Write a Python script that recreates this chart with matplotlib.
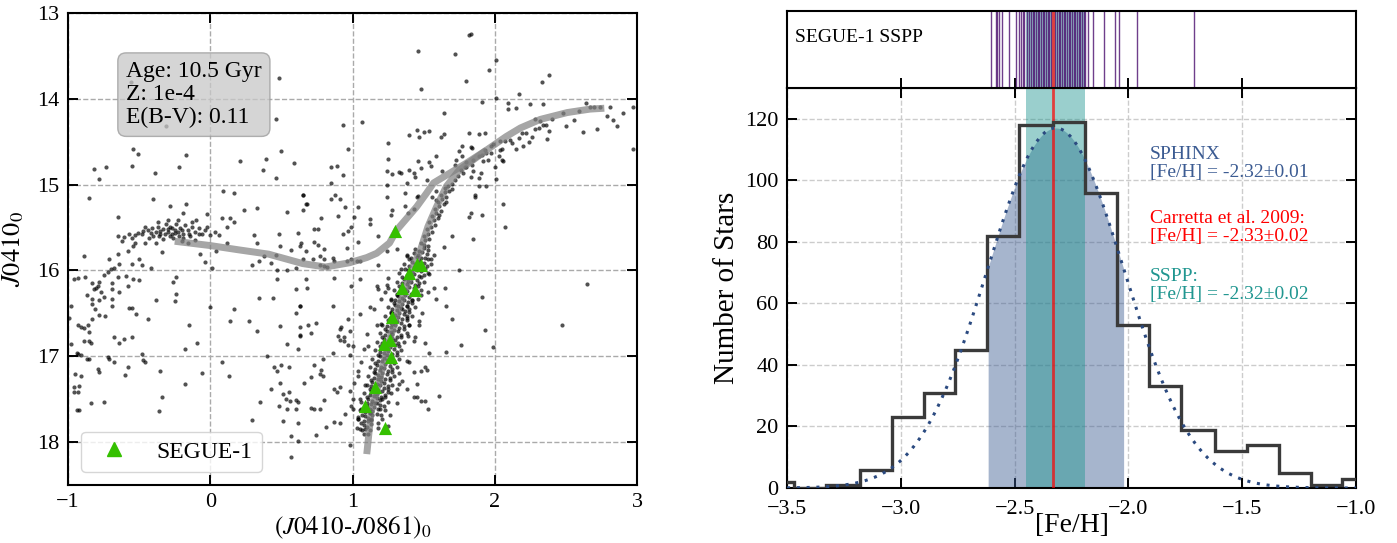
import numpy as np
import matplotlib
matplotlib.use("Agg")
import matplotlib.pyplot as plt
from matplotlib.lines import Line2D

plt.rcParams["font.family"] = ["Liberation Serif", "DejaVu Serif"]
plt.rcParams["mathtext.fontset"] = "stix"
plt.rcParams["axes.unicode_minus"] = True

# ---------------- left panel: CMD ----------------
field_stars = [
    (0.48, 13.76), (0.46, 14.24), (-0.56, 13.80), (-0.31, 14.32), (-0.54, 14.58), (-0.51, 14.64),
    (-0.17, 14.65), (0.50, 14.61), (0.21, 14.72), (0.39, 14.70), (-0.82, 14.82), (-0.73, 14.79),
    (-0.55, 14.78), (-0.22, 14.79), (0.37, 14.83), (0.59, 14.75), (-0.78, 14.93), (-0.39, 14.87),
    (0.46, 14.92), (-0.85, 15.16), (-0.40, 15.17), (0.09, 15.08), (0.17, 15.10), (-0.17, 15.22),
    (-0.28, 15.25), (0.65, 15.12), (0.68, 15.22), (0.24, 15.30), (0.33, 15.27), (0.54, 15.32),
    (-0.65, 15.38), (-0.19, 15.33), (-0.02, 15.34), (0.08, 15.39), (0.14, 15.39), (0.17, 15.44),
    (0.12, 15.49), (0.31, 15.59), (0.48, 15.58), (0.62, 15.56), (0.64, 15.68), (0.57, 15.76),
    (0.49, 15.72), (0.33, 15.68), (0.12, 15.68), (0.06, 15.59),
    (-0.89, 15.83), (-0.65, 15.81), (-0.34, 15.79), (-0.07, 15.81), (-0.04, 15.90), (0.01, 15.97),
    (0.04, 15.77), (-0.71, 15.87), (-0.64, 15.92), (-0.55, 15.93), (-0.50, 15.87), (-0.48, 15.94),
    (-0.42, 15.97), (-0.96, 16.10), (-0.93, 16.09), (-0.88, 16.08), (-0.72, 16.02), (-0.70, 15.98),
    (-0.68, 15.97), (-0.75, 16.05), (-0.79, 16.18), (-0.80, 16.21), (-0.82, 16.22), (-0.83, 16.15),
    (-0.78, 16.13), (-0.77, 16.25), (-0.75, 16.31), (-0.78, 16.35), (-0.83, 16.33), (-0.87, 16.29),
    (-0.81, 16.45), (-0.83, 16.39), (-0.65, 16.08), (-0.64, 16.25), (-0.69, 16.22), (-0.69, 16.33),
    (-0.69, 16.41), (-0.69, 16.15), (-0.59, 16.07), (-0.58, 16.18), (-0.54, 16.10), (-0.50, 16.11),
    (-0.57, 16.44), (-0.55, 16.44), (-0.52, 16.51), (-0.44, 16.57), (-0.38, 16.34), (-0.25, 16.36),
    (-0.24, 16.28), (-0.26, 16.13), (-0.24, 16.08), (-0.15, 16.64), (-0.09, 16.85), (-0.18, 16.92),
    (0.00, 16.43), (-0.74, 16.53), (-0.78, 16.52), (-0.83, 16.57), (-0.86, 16.64), (-0.93, 16.63),
    (-0.91, 16.66), (-0.89, 16.67), (-0.85, 16.72), (-0.89, 16.82), (-0.85, 16.82), (-0.84, 16.85),
    (-0.98, 16.86), (-0.99, 16.55), (-0.98, 16.41), (-0.94, 16.96), (-0.93, 16.97), (-0.91, 16.99),
    (-0.87, 17.03), (-0.85, 17.03), (-0.72, 17.01), (-0.71, 17.03), (-0.68, 17.07), (-0.79, 17.15),
    (-0.78, 17.18), (-0.58, 17.13), (-0.60, 17.22), (-0.48, 16.97), (-0.47, 17.04), (-0.46, 17.07),
    (-0.35, 17.17), (-0.18, 17.32), (-0.06, 17.20), (-0.95, 17.21), (-0.91, 17.23), (-0.96, 17.36),
    (-0.92, 17.35), (-0.96, 17.42), (-0.93, 17.42), (-0.84, 17.54), (-0.75, 17.53), (-0.94, 17.63),
    (-0.92, 17.63), (-0.34, 17.47), (-0.36, 17.64), (-0.61, 16.80), (-0.64, 16.85), (-0.55, 16.77),
    (-0.68, 16.78), (0.08, 17.07), (0.13, 17.23), (0.14, 16.59), (0.17, 16.45), (0.27, 16.59),
    (0.34, 16.32), (0.44, 16.32), (0.33, 16.71), (0.49, 16.65), (0.54, 16.86), (0.63, 16.66),
    (0.63, 16.75), (0.62, 16.92), (0.60, 16.50), (0.63, 16.41), (0.40, 17.00), (0.45, 17.12),
    (0.47, 17.17), (0.50, 17.10), (0.55, 17.13), (0.49, 17.31), (0.43, 17.38), (0.51, 17.44),
    (0.55, 17.42), (0.56, 17.52), (0.53, 17.50), (0.60, 17.51), (0.62, 17.53), (0.48, 17.58),
    (0.54, 17.61), (0.60, 17.62), (0.35, 17.53), (0.29, 17.74), (0.51, 17.76), (0.62, 17.78),
    (0.57, 17.93), (0.62, 17.99), (0.57, 18.17), (0.47, 16.10), (0.54, 16.00), (0.47, 15.99),
    (0.43, 15.91), (0.29, 15.94), (0.34, 15.89), (0.38, 15.83), (0.46, 15.82), (0.60, 15.97),
    (0.65, 15.87), (0.60, 16.22),
    (1.46, 13.44), (1.72, 13.48), (1.82, 13.26), (1.83, 13.25), (2.01, 13.55), (1.96, 13.67),
    (1.80, 13.79), (1.48, 13.89), (2.33, 13.81), (2.38, 13.72), (2.17, 13.94), (1.91, 14.04),
    (2.01, 13.99), (2.09, 14.05), (2.09, 14.12), (2.15, 14.11), (2.25, 14.06), (2.34, 14.06),
    (0.93, 14.31), (1.07, 14.27), (0.97, 14.58), (1.64, 14.17), (1.45, 14.36), (1.50, 14.39),
    (1.54, 14.37), (1.40, 14.42), (1.47, 14.44), (1.62, 14.44), (1.64, 14.41), (1.25, 14.52),
    (1.25, 14.70), (1.46, 14.72), (1.59, 14.67), (1.54, 14.74), (1.55, 14.78), (1.48, 14.81),
    (1.40, 14.83), (1.34, 14.86), (1.28, 14.88), (1.24, 14.84), (1.43, 14.86), (1.44, 14.91),
    (1.52, 14.95), (1.63, 14.84), (1.24, 15.00), (1.24, 15.15), (1.28, 15.29), (1.27, 15.35),
    (1.18, 15.60), (1.12, 15.46), (1.12, 15.40), (1.04, 15.26), (1.01, 15.38), (0.99, 15.49),
    (0.90, 15.37), (0.95, 15.26), (0.88, 15.12), (0.85, 15.17), (0.91, 15.17), (0.85, 14.98),
    (0.85, 14.80), (0.89, 14.78), (0.93, 14.89), (0.65, 15.12), (0.67, 15.22), (0.65, 15.29),
    (0.78, 15.39), (0.73, 15.52), (0.76, 15.52), (0.93, 15.57), (0.97, 15.54), (0.73, 15.67),
    (0.76, 15.70), (0.63, 15.72), (0.80, 15.75), (0.96, 15.74), (1.04, 15.67), (1.33, 14.85),
    (1.37, 15.10), (1.38, 14.98), (1.45, 15.14), (1.46, 15.13), (1.37, 15.25), (1.39, 15.33),
    (1.43, 15.28), (1.56, 15.15), (1.59, 15.18), (1.59, 15.07), (1.65, 15.04), (1.70, 15.60),
    (1.85, 15.63), (1.82, 15.38), (1.91, 15.35), (1.86, 15.15), (1.83, 15.33), (1.89, 15.02),
    (1.94, 15.02), (2.01, 14.93), (2.06, 15.23), (2.07, 15.49), (2.05, 14.71), (2.06, 14.72),
    (2.03, 14.67), (2.04, 14.60), (2.04, 14.49), (2.07, 14.49), (2.11, 14.48), (2.12, 14.52),
    (2.15, 14.59), (2.17, 14.46), (2.19, 14.40), (2.20, 14.55), (2.24, 14.50), (2.26, 14.45),
    (2.22, 14.40), (2.28, 14.35), (2.31, 14.34), (2.34, 14.31), (2.37, 14.47), (2.38, 14.38),
    (2.36, 14.30), (2.40, 14.23), (2.48, 14.16), (2.50, 14.32), (2.56, 14.25), (2.59, 14.14),
    (2.62, 14.39), (2.64, 14.05), (2.67, 14.10), (2.70, 14.09), (2.72, 14.35), (2.74, 14.09),
    (2.79, 14.20), (2.81, 14.10), (2.83, 14.25), (2.86, 14.32), (2.90, 14.17), (2.97, 14.09),
    (2.97, 14.58), (2.28, 14.24), (2.32, 14.26), (1.99, 14.53), (1.97, 14.55), (1.93, 14.60),
    (1.94, 14.63), (1.97, 14.63), (1.91, 14.65), (1.92, 14.73), (1.89, 14.67), (1.85, 14.71),
    (1.84, 14.77), (1.85, 14.84), (1.83, 14.56), (1.84, 14.57), (1.77, 14.55), (1.75, 14.61),
    (1.77, 14.67), (1.73, 14.71), (1.72, 14.77), (1.79, 14.79), (1.80, 14.74), (1.90, 14.86),
    (1.89, 14.92), (1.83, 14.91), (1.86, 15.12), (1.93, 14.40), (1.82, 14.40), (1.89, 14.41),
    (1.95, 14.71), (2.00, 14.80), (2.05, 14.58),
    (1.75, 15.99), (2.65, 16.16), (2.47, 16.64), (1.91, 16.31), (1.65, 16.20), (1.66, 16.42),
    (1.70, 16.56), (1.93, 16.69), (1.76, 16.87), (1.99, 16.89), (1.66, 16.95), (1.54, 16.96),
    (1.61, 17.46), (1.53, 17.62), (1.51, 17.52), (1.48, 17.52), (1.45, 17.48), (1.43, 17.48),
    (1.52, 17.16), (1.48, 17.17), (1.51, 17.12), (1.43, 17.18), (1.45, 17.32), (1.38, 17.38),
    (1.35, 17.29), (1.33, 17.32), (1.31, 17.54), (1.26, 17.69), (1.25, 17.81), (1.05, 17.85),
    (1.07, 17.86), (0.98, 18.03), (1.04, 17.71), (1.00, 17.62), (1.04, 17.73), (0.95, 17.67),
    (0.91, 17.78), (0.87, 17.77), (0.81, 17.82), (0.74, 17.92), (0.71, 17.60), (0.73, 17.61),
    (0.77, 17.61), (0.80, 17.51), (0.89, 17.42), (0.91, 17.36), (0.87, 17.38), (0.98, 17.40),
    (1.00, 17.50), (0.99, 17.58), (0.79, 17.23), (0.77, 17.21), (0.71, 17.24), (0.66, 17.31),
    (0.79, 17.03), (0.78, 17.16), (0.73, 17.10), (0.86, 16.96), (0.98, 16.99), (1.00, 16.88),
    (0.97, 16.87), (0.94, 16.82), (0.90, 16.76), (0.92, 16.66), (0.91, 16.68), (0.97, 16.56),
    (0.98, 16.70), (1.05, 16.51), (1.12, 16.43), (1.15, 16.45), (1.17, 16.18), (1.18, 16.22),
    (1.23, 16.25), (1.25, 16.09), (1.20, 16.33), (1.17, 16.64), (1.20, 16.62), (1.10, 16.74),
    (1.11, 16.88), (1.08, 16.92), (1.06, 17.07), (1.04, 17.17), (1.04, 17.23), (1.01, 17.31),
    (1.10, 17.34), (1.05, 17.50), (1.10, 17.58), (1.12, 17.66), (1.13, 17.73), (1.06, 17.62),
    (1.17, 17.54), (1.19, 17.62), (1.21, 17.50), (1.25, 17.42), (1.31, 17.38), (1.33, 17.19),
    (1.38, 17.05), (1.40, 17.07), (1.39, 16.76), (1.43, 16.82), (1.44, 16.77), (1.51, 16.84),
    (1.49, 16.49), (1.47, 16.59), (1.47, 16.64), (1.40, 16.64), (1.38, 16.53), (1.35, 16.45),
    (1.38, 16.41), (1.42, 16.35), (1.48, 16.29), (1.53, 16.25), (1.57, 16.21), (1.59, 16.33),
    (1.54, 16.04), (1.64, 15.73), (1.31, 15.75), (1.38, 15.83), (1.34, 15.98), (1.25, 16.20),
    (1.27, 16.35), (1.31, 16.29), (1.28, 16.49), (1.24, 16.17), (1.05, 16.10), (0.99, 16.18),
    (0.68, 16.21), (0.67, 16.10), (0.87, 16.09), (0.86, 16.42), (0.63, 16.41), (0.63, 16.76),
    (0.69, 16.64), (0.74, 16.61), (0.71, 16.73), (0.94, 16.78), (0.91, 16.81), (1.18, 15.94),
    (1.05, 15.89), (0.99, 15.87), (1.24, 15.77), (0.67, 15.77), (0.72, 15.87), (0.77, 15.83),
    (0.80, 15.87), (0.86, 15.85), (0.87, 15.89), (0.96, 15.89), (1.03, 15.89), (0.77, 15.94),
    (0.80, 15.95), (0.82, 15.96),
]

hb_clump = [
    (-0.65, 15.60), (-0.61, 15.61), (-0.57, 15.57), (-0.53, 15.59), (-0.51, 15.56), (-0.48, 15.58),
    (-0.46, 15.49), (-0.44, 15.53), (-0.41, 15.51), (-0.40, 15.60), (-0.38, 15.55), (-0.37, 15.49),
    (-0.35, 15.57), (-0.33, 15.52), (-0.31, 15.46), (-0.30, 15.55), (-0.28, 15.49), (-0.27, 15.57),
    (-0.25, 15.53), (-0.24, 15.46), (-0.23, 15.55), (-0.21, 15.50), (-0.19, 15.57), (-0.18, 15.47),
    (-0.16, 15.53), (-0.14, 15.60), (-0.13, 15.49), (-0.11, 15.55), (-0.08, 15.50), (-0.06, 15.57),
    (-0.04, 15.53), (-0.02, 15.49), (0.00, 15.59), (0.03, 15.55), (-0.11, 15.65), (-0.16, 15.68),
    (-0.20, 15.66), (-0.54, 15.72), (-0.58, 15.77), (-0.53, 15.68), (-0.38, 15.68), (-0.46, 15.68),
    (-0.10, 15.41), (-0.13, 15.44), (-0.23, 15.41), (-0.30, 15.41), (-0.37, 15.43), (-0.30, 15.52),
    (-0.25, 15.56), (-0.35, 15.54), (-0.28, 15.60), (-0.22, 15.60), (-0.32, 15.58), (-0.42, 15.56),
    (-0.20, 15.53), (-0.27, 15.50), (-0.36, 15.60), (-0.15, 15.58), (-0.43, 15.62), (-0.33, 15.63),
    (-0.26, 15.62), (-0.19, 15.62), (-0.08, 15.58), (-0.47, 15.54), (-0.55, 15.62), (-0.62, 15.66),
]

rgb_core = [
    (1.44, 15.75), (1.47, 15.77), (1.50, 15.74), (1.53, 15.76), (1.43, 15.80), (1.46, 15.82),
    (1.49, 15.79), (1.52, 15.81), (1.41, 15.85), (1.45, 15.84), (1.48, 15.86), (1.51, 15.85),
    (1.55, 15.87), (1.42, 15.90), (1.44, 15.92), (1.47, 15.89), (1.50, 15.91), (1.40, 15.95),
    (1.43, 15.96), (1.46, 15.94), (1.49, 15.97), (1.52, 15.95), (1.39, 16.00), (1.42, 16.02),
    (1.45, 15.99), (1.48, 16.01), (1.38, 16.05), (1.41, 16.06), (1.43, 16.04), (1.47, 16.07),
    (1.50, 16.05), (1.36, 16.10), (1.39, 16.12), (1.42, 16.09), (1.45, 16.11), (1.35, 16.15),
    (1.38, 16.16), (1.41, 16.14), (1.44, 16.17), (1.47, 16.15), (1.34, 16.20), (1.37, 16.22),
    (1.40, 16.19), (1.43, 16.21), (1.33, 16.25), (1.36, 16.26), (1.38, 16.24), (1.41, 16.27),
    (1.45, 16.25), (1.32, 16.30), (1.35, 16.32), (1.37, 16.29), (1.40, 16.31), (1.30, 16.35),
    (1.33, 16.36), (1.36, 16.34), (1.39, 16.37), (1.42, 16.35), (1.30, 16.40), (1.32, 16.42),
    (1.35, 16.39), (1.38, 16.41), (1.28, 16.45), (1.31, 16.46), (1.34, 16.44), (1.37, 16.47),
    (1.40, 16.45), (1.27, 16.50), (1.30, 16.52), (1.33, 16.49), (1.36, 16.51), (1.26, 16.55),
    (1.29, 16.56), (1.32, 16.54), (1.35, 16.57), (1.38, 16.55), (1.26, 16.60), (1.28, 16.62),
    (1.31, 16.59), (1.34, 16.61), (1.24, 16.65), (1.27, 16.66), (1.30, 16.64), (1.33, 16.67),
    (1.36, 16.65), (1.24, 16.70), (1.27, 16.72), (1.29, 16.69), (1.32, 16.71), (1.23, 16.75),
    (1.26, 16.76), (1.28, 16.74), (1.31, 16.77), (1.34, 16.75), (1.22, 16.80), (1.25, 16.82),
    (1.28, 16.79), (1.30, 16.81), (1.21, 16.85), (1.24, 16.86), (1.27, 16.84), (1.30, 16.87),
    (1.32, 16.85), (1.21, 16.90), (1.23, 16.92), (1.26, 16.89), (1.29, 16.91), (1.19, 16.95),
    (1.22, 16.96), (1.25, 16.94), (1.28, 16.97), (1.31, 16.95), (1.19, 17.00), (1.22, 17.02),
    (1.24, 16.99), (1.27, 17.01), (1.18, 17.05), (1.21, 17.06), (1.24, 17.04), (1.26, 17.07),
    (1.29, 17.05), (1.17, 17.10), (1.20, 17.12), (1.23, 17.09), (1.26, 17.11), (1.16, 17.15),
    (1.19, 17.16), (1.22, 17.14), (1.25, 17.17), (1.28, 17.15), (1.16, 17.20), (1.18, 17.22),
    (1.21, 17.19), (1.24, 17.21), (1.15, 17.25), (1.18, 17.26), (1.20, 17.24), (1.23, 17.27),
    (1.26, 17.25), (1.14, 17.30), (1.17, 17.32), (1.20, 17.29), (1.22, 17.31), (1.13, 17.35),
    (1.16, 17.36), (1.19, 17.34), (1.22, 17.37), (1.25, 17.35), (1.13, 17.40), (1.15, 17.42),
    (1.18, 17.39), (1.21, 17.41), (1.12, 17.45), (1.15, 17.46), (1.17, 17.44), (1.20, 17.47),
    (1.23, 17.45), (1.11, 17.50), (1.14, 17.52), (1.17, 17.49), (1.19, 17.51), (1.10, 17.55),
    (1.13, 17.56), (1.16, 17.54), (1.19, 17.57), (1.10, 17.60), (1.12, 17.62), (1.15, 17.59),
    (1.18, 17.61), (1.09, 17.65), (1.12, 17.66), (1.14, 17.64), (1.17, 17.67), (1.09, 17.70),
    (1.11, 17.72), (1.14, 17.69), (1.08, 17.75), (1.11, 17.76), (1.13, 17.74), (1.08, 17.80),
    (1.10, 17.82), (1.13, 17.79), (1.09, 17.85), (1.12, 17.86), (1.08, 17.90), (1.11, 17.91),
    (1.50, 15.70), (1.53, 15.72), (1.48, 15.68), (1.51, 15.65), (1.54, 15.63), (1.50, 15.60),
    (1.53, 15.57), (1.56, 15.55), (1.52, 15.52), (1.55, 15.49), (1.58, 15.47), (1.54, 15.44),
    (1.57, 15.41), (1.60, 15.39), (1.56, 15.36), (1.59, 15.33), (1.62, 15.31), (1.58, 15.28),
    (1.61, 15.25), (1.64, 15.23), (1.60, 15.20), (1.63, 15.17), (1.66, 15.15), (1.62, 15.12),
    (1.65, 15.09), (1.68, 15.07), (1.67, 15.02), (1.70, 14.99), (1.72, 14.95), (1.74, 14.90),
    (1.78, 14.87), (1.76, 14.83), (1.80, 14.80), (1.70, 15.05), (1.66, 15.20), (1.61, 15.35),
]

rgb_wide = [
    (1.38, 15.82), (1.57, 15.82), (1.36, 15.93), (1.55, 15.93), (1.33, 16.03), (1.53, 16.03),
    (1.31, 16.13), (1.50, 16.13), (1.29, 16.23), (1.48, 16.23), (1.27, 16.33), (1.46, 16.33),
    (1.25, 16.43), (1.44, 16.43), (1.23, 16.53), (1.42, 16.53), (1.21, 16.63), (1.40, 16.63),
    (1.19, 16.73), (1.38, 16.73), (1.17, 16.83), (1.36, 16.83), (1.16, 16.93), (1.34, 16.93),
    (1.14, 17.03), (1.33, 17.03), (1.12, 17.13), (1.31, 17.13), (1.11, 17.23), (1.29, 17.23),
    (1.09, 17.33), (1.28, 17.33), (1.08, 17.43), (1.27, 17.43), (1.06, 17.53), (1.25, 17.53),
    (1.05, 17.63), (1.23, 17.63), (1.04, 17.73), (1.21, 17.73), (1.03, 17.83), (1.18, 17.83),
    (1.40, 15.87), (1.53, 15.87), (1.37, 15.98), (1.51, 15.98), (1.35, 16.08), (1.48, 16.08),
    (1.33, 16.18), (1.46, 16.18), (1.31, 16.28), (1.44, 16.28), (1.29, 16.38), (1.42, 16.38),
    (1.27, 16.48), (1.40, 16.48), (1.25, 16.58), (1.38, 16.58), (1.23, 16.68), (1.36, 16.68),
    (1.21, 16.78), (1.34, 16.78), (1.19, 16.88), (1.33, 16.88), (1.18, 16.98), (1.31, 16.98),
    (1.16, 17.08), (1.29, 17.08), (1.15, 17.18), (1.28, 17.18), (1.13, 17.28), (1.26, 17.28),
    (1.12, 17.38), (1.25, 17.38), (1.10, 17.48), (1.23, 17.48), (1.09, 17.58), (1.22, 17.58),
    (1.07, 17.68), (1.20, 17.68), (1.06, 17.78), (1.18, 17.78),
]

segue_x = [1.30, 1.45, 1.48, 1.40, 1.35, 1.44, 1.28, 1.26, 1.22, 1.27, 1.16, 1.09, 1.23]
segue_y = [15.54, 15.92, 15.94, 16.03, 16.20, 16.23, 16.54, 16.81, 16.86, 17.01, 17.36, 17.58, 17.83]

rgb_iso_x = [1.10, 1.13, 1.19, 1.25, 1.33, 1.43, 1.48, 1.53, 1.59, 1.66, 1.75, 1.85, 1.94,
             2.08, 2.18, 2.32, 2.51, 2.67, 2.77]
rgb_iso_y = [18.14, 17.66, 17.27, 16.88, 16.41, 15.94, 15.75, 15.49, 15.26, 15.02, 14.83, 14.71,
             14.60, 14.44, 14.34, 14.24, 14.16, 14.12, 14.11]
hb_iso_x = [-0.25, 0.00, 0.20, 0.41, 0.65, 0.81, 0.98, 1.10, 1.17, 1.26, 1.31, 1.45, 1.52,
            1.57, 1.66, 1.80, 1.94]
hb_iso_y = [15.66, 15.71, 15.76, 15.81, 15.92, 15.96, 15.91, 15.85, 15.80, 15.68, 15.53, 15.26,
            15.10, 14.98, 14.89, 14.75, 14.60]

# ---------------- right panel: MDF ----------------
hist_edges = [-3.61, -3.47, -3.33, -3.18, -3.04, -2.90, -2.76, -2.62, -2.48, -2.33, -2.19,
              -2.05, -1.91, -1.77, -1.62, -1.48, -1.34, -1.20, -1.06, -0.92]
hist_counts = [2, 0, 1, 6, 23, 31, 45, 82, 118, 119, 96, 53, 33, 19, 12, 14, 5, 1, 3]

sphinx_mean, sphinx_sigma, sphinx_peak = -2.32, 0.30, 117.0
carretta_feh = -2.33
sspp_lo, sspp_hi = -2.45, -2.19

sspp_feh = [-2.605, -2.583, -2.576, -2.567, -2.557, -2.523, -2.494, -2.479, -2.472, -2.465,
            -2.457, -2.447, -2.438, -2.429, -2.421, -2.413, -2.406, -2.399, -2.391, -2.384,
            -2.377, -2.369, -2.362, -2.355, -2.347, -2.340, -2.322, -2.315, -2.306, -2.299,
            -2.292, -2.284, -2.277, -2.270, -2.262, -2.255, -2.248, -2.240, -2.233, -2.226,
            -2.218, -2.211, -2.204, -2.197, -2.189, -2.179, -2.157, -2.106, -2.059, -2.040,
            -1.962, -1.712]

SPHINX_C = "#3b5b92"
TEAL = "#209690"

fig = plt.figure(figsize=(13.97, 5.43), dpi=100)
axL = fig.add_axes([0.0487, 0.1068, 0.4073, 0.8693])
axR = fig.add_axes([0.5634, 0.1013, 0.4073, 0.7367])
axT = fig.add_axes([0.5634, 0.8380, 0.4073, 0.1417])


def style_ticks(ax, size=16):
    ax.tick_params(direction="in", length=7, width=1.4, labelsize=size,
                   top=True, right=True, pad=6)
    for s in ax.spines.values():
        s.set_linewidth(1.5)


# ---------- left ----------
fs = np.array(field_stars + hb_clump + rgb_core + rgb_wide)
axL.scatter(fs[:, 0], fs[:, 1], s=9, c="k", alpha=0.68, lw=0, zorder=2)
axL.plot(rgb_iso_x, rgb_iso_y, color="grey", lw=5, alpha=0.7, solid_capstyle="butt", zorder=3)
axL.plot(hb_iso_x, hb_iso_y, color="grey", lw=5, alpha=0.7, solid_capstyle="butt", zorder=3)
axL.scatter(segue_x, segue_y, marker="^", s=90, color="#35c000", lw=0, zorder=4)
axL.set_xlim(-1, 3)
axL.set_ylim(18.5, 13)
axL.set_xticks([-1, 0, 1, 2, 3])
axL.set_yticks([13, 14, 15, 16, 17, 18])
axL.grid(True, ls="--", color="#aaaaaa", lw=1)
style_ticks(axL)
axL.set_xlabel(r"$(J0410\text{-}J0861)_0$", fontsize=18, labelpad=2)
axL.set_ylabel(r"$J0410_0$", fontsize=19, labelpad=8)
axL.text(0.102, 0.898, "Age: 10.5 Gyr\nZ: 1e-4\nE(B-V): 0.11", transform=axL.transAxes,
         fontsize=17, va="top", ha="left", linespacing=1.12,
         bbox=dict(boxstyle="round,pad=0.35", fc="#c8c8c8", ec="#999999", alpha=0.75))
axL.legend(handles=[Line2D([0], [0], marker="^", color="#35c000", lw=0, markersize=10,
                           label="SEGUE-1")],
           loc="lower left", fontsize=17, borderaxespad=0.55, framealpha=0.8)

# ---------- right ----------
gx = np.linspace(-3.5, -1.0, 400)
gy = sphinx_peak * np.exp(-0.5 * ((gx - sphinx_mean) / sphinx_sigma) ** 2)
band = (gx >= sphinx_mean - sphinx_sigma) & (gx <= sphinx_mean + sphinx_sigma)
axR.fill_between(gx, 0, gy, where=band, color=SPHINX_C, alpha=0.45, lw=0, zorder=1)
axR.axvspan(sspp_lo, sspp_hi, color=TEAL, alpha=0.45, lw=0, zorder=2)
axR.axvline(carretta_feh, color="red", alpha=0.7, lw=2, zorder=3)
axR.stairs(hist_counts, hist_edges, color="#3a3a3a", lw=2.4, zorder=4)
axR.plot(gx, gy, ls=(0, (1, 2.2)), color="#2b4a80", lw=2.2, zorder=5)
axR.set_xlim(-3.5, -1.0)
axR.set_ylim(0, 130)
axR.set_xticks([-3.5, -3.0, -2.5, -2.0, -1.5, -1.0])
axR.set_yticks([0, 20, 40, 60, 80, 100, 120])
axR.grid(True, ls="--", color="#cccccc", lw=1, zorder=0)
axR.set_axisbelow(True)
style_ticks(axR)
axR.tick_params(axis="x", pad=9)
axR.set_xlabel("[Fe/H]", fontsize=20, labelpad=-5)
axR.set_ylabel("Number of Stars", fontsize=21)
axR.text(-1.905, 105.5, "SPHINX\n[Fe/H] = -2.32\u00b10.01", color=SPHINX_C, fontsize=14,
         va="center", linespacing=1.05)
axR.text(-1.905, 84.7, "Carretta et al. 2009:\n[Fe/H] = -2.33\u00b10.02", color="red",
         fontsize=14, va="center", linespacing=1.05)
axR.text(-1.905, 65.8, "SSPP:\n[Fe/H] = -2.32\u00b10.02", color=TEAL, fontsize=14,
         va="center", linespacing=1.05)

# ---------- top rug ----------
axT.axvspan(sspp_lo, sspp_hi, color=TEAL, alpha=0.45, lw=0)
axT.vlines(sspp_feh, 0, 1, color="#4b0f6e", alpha=0.8, lw=1.0)
axT.axvline(carretta_feh, color="red", alpha=0.7, lw=2)
axT.set_xlim(-3.5, -1.0)
axT.set_ylim(0, 1)
axT.set_xticks([-3.5, -3.0, -2.5, -2.0, -1.5, -1.0])
axT.set_yticks([])
axT.tick_params(direction="in", length=7, width=1.4, labelbottom=False, bottom=True, top=False)
for s in axT.spines.values():
    s.set_linewidth(1.5)
axT.text(0.014, 0.66, "SEGUE-1 SSPP", transform=axT.transAxes, fontsize=14, va="center")

fig.savefig("out.png", dpi=100)
